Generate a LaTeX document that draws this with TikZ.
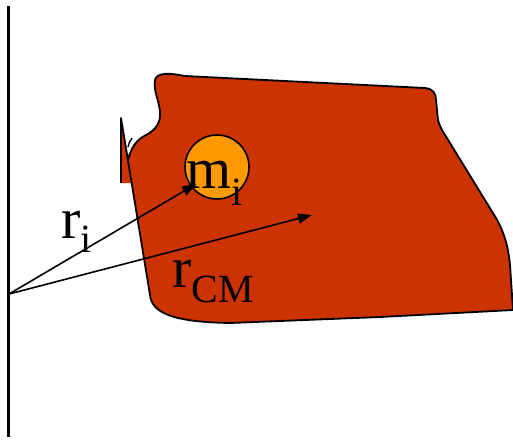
\documentclass[tikz,border=0pt]{standalone}
\usepackage{fontspec}
\setmainfont{Liberation Serif}
\usetikzlibrary{arrows.meta}
\definecolor{bodyred}{HTML}{CC3300}
\definecolor{massorange}{HTML}{FF9900}
\tikzset{
  outline/.style={draw=black, line width=1.8pt, line join=round},
  vec/.style={draw=black, line width=1.6pt, -{Triangle[length=14pt,width=10pt]}},
  lbl/.style={anchor=base west, inner sep=0pt, font=\fontsize{58}{60}\selectfont},
}
\newcommand{\subtxt}[2]{\raisebox{-#1}{\fontsize{40}{40}\selectfont #2}}
\begin{document}
\begin{tikzpicture}[x=1pt,y=-1pt]
\useasboundingbox (0,0) rectangle (513,440);
% rigid body
\fill[bodyred] (121,118) -- (121,183) -- (131,183) -- cycle;
\draw[outline, fill=bodyred] (128,160) .. controls (131,148) and (136,140) .. (146,135)
  .. controls (156,130) and (161,122) .. (160,112)
  .. controls (159,100) and (153,90) .. (155,80)
  .. controls (157,72) and (170,73) .. (185,76)
  -- (425,88) .. controls (433,89) and (436,93) .. (436,100)
  -- (438,120) .. controls (439,124) and (440,126) .. (442,130)
  -- (496,218) .. controls (504,232) and (508,245) .. (510,265)
  -- (513,310) -- (380,317) -- (230,323)
  .. controls (170,322) and (152,312) .. (150,295)
  -- (121,118) -- cycle;
\draw[outline] (121,118) -- (121,183);
\draw[line width=1.4pt] (128,147) .. controls (129,143) .. (132,138);
% axis line
\coordinate (top) at (8.5,6);
\coordinate (bot) at (8.5,437);
\coordinate (O) at (9,294);
\draw[line width=2.4pt] (top) -- (bot);
% mass element
\node[circle, draw=black, line width=1.6pt, fill=massorange, minimum size=64pt, inner sep=0pt] (mass) at (217,167) {};
% vectors
\coordinate (ri) at (196,184);
\coordinate (rcm) at (312,215);
\draw[vec] (O) -- (ri);
\draw[vec] (O) -- (rcm);
% labels
\node[lbl] (mlabel) at (186,188) {m\subtxt{17pt}{i}};
\node[lbl] (rilabel) at (61,238) {r\subtxt{14pt}{i}};
\node[lbl] (rcmlabel) at (172,287) {r\subtxt{15pt}{CM}};
\end{tikzpicture}
\end{document}
